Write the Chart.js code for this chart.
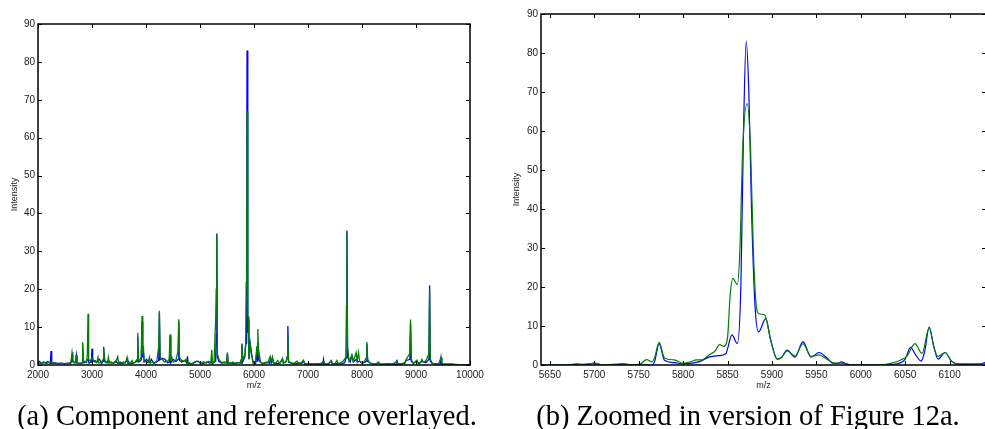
<!DOCTYPE html>
<html>
<head>
<meta charset="utf-8">
<script src="https://cdn.jsdelivr.net/npm/chart.js@4.4.0/dist/chart.umd.min.js"></script>
<style>
html,body{margin:0;padding:0;background:#fff;overflow:hidden;width:985px;height:429px;}
#wrap{position:relative;width:985px;height:429px;overflow:hidden;}
canvas{position:absolute;top:0;}
#chartA{left:0;}
#chartB{left:490px;}
.cap{position:absolute;top:402px;width:494px;text-align:center;font-family:"Liberation Serif",serif;font-size:28.5px;line-height:28.5px;color:#000;white-space:nowrap;}
</style>
</head>
<body>
<div id="wrap">
<canvas id="chartA" width="490" height="429"></canvas>
<canvas id="chartB" width="500" height="429"></canvas>
<div class="cap" style="left:0">(a) Component and reference overlayed.</div>
<div class="cap" style="left:501px">(b) Zoomed in version of Figure 12a.</div>
</div>
<script>
// ticks
const yTicks = [0, 10, 20, 30, 40, 50, 60, 70, 80, 90];
const xTicksA = [2000, 3000, 4000, 5000, 6000, 7000, 8000, 9000, 10000];
const xTicksB = [5650, 5700, 5750, 5800, 5850, 5900, 5950, 6000, 6050, 6100];

// espectro completo (m/z, intensidad) - referencia azul
const azulA = [
  [2000,0.4],[2030,0.9],[2060,0.4],[2100,0.8],[2140,0.5],[2180,0.9],[2228,0.4],[2241,3.7],[2254,0.4],[2300,0.6],
  [2360,0.4],[2420,0.5],[2480,0.3],[2540,0.5],[2600,0.4],[2618,0.8],[2630,2.6],[2642,0.9],[2690,0.6],[2710,2.6],
  [2722,0.5],[2790,0.5],[2815,0.6],[2827,5.5],[2839,0.6],[2880,0.8],[2926,1.5],[2945,0.5],[2988,0.8],[3000,4.3],
  [3012,1.0],[3050,1.2],[3090,0.8],[3140,1.5],[3180,0.4],[3204,1.0],[3216,4.8],[3228,1.2],[3260,0.6],[3300,1.2],
  [3350,0.5],[3400,0.6],[3440,1.0],[3480,0.4],[3520,0.8],[3560,0.4],[3600,0.6],[3660,1.2],[3700,0.4],[3760,0.5],
  [3810,0.8],[3835,1.0],[3847,7.5],[3859,0.8],[3890,1.0],[3915,1.5],[3927,11.5],[3940,2.0],[3952,3.5],[3965,0.8],
  [4010,1.5],[4060,0.6],[4100,1.5],[4140,0.5],[4200,0.8],[4236,1.2],[4248,13.8],[4260,1.4],[4300,1.8],[4350,1.5],
  [4400,0.6],[4434,0.8],[4446,7.5],[4458,0.6],[4500,1.5],[4560,1.0],[4595,1.5],[4607,11.5],[4620,1.2],[4660,0.8],
  [4720,1.2],[4755,0.5],[4767,2.3],[4780,0.5],[4830,0.3],[4880,0.5],[4940,1.0],[5000,0.6],[5060,0.4],[5120,0.8],
  [5180,0.5],[5206,0.6],[5218,2.0],[5232,0.4],[5290,1.0],[5300,8.0],[5311,34.7],[5323,2.0],[5350,1.0],[5400,0.5],
  [5460,0.6],[5496,0.5],[5508,3.0],[5520,0.5],[5580,0.5],[5640,0.4],[5700,0.6],[5762,0.5],[5775,5.5],[5790,0.8],
  [5830,2.1],[5855,7.7],[5862,5.5],[5871,83],[5885,8.5],[5893,12.0],[5906,1.5],[5929,5.8],[5953,3.2],[5985,0.5],
  [6030,0.4],[6053,4.0],[6062,1.0],[6071,6.0],[6087,1.5],[6120,0.8],[6160,0.3],[6200,0.5],[6260,0.6],[6288,0.5],
  [6300,1.5],[6320,0.6],[6342,2.0],[6360,0.5],[6420,0.4],[6480,0.5],[6528,1.5],[6545,0.5],[6600,1.0],[6615,2.2],
  [6627,10.3],[6640,0.8],[6700,0.4],[6760,0.3],[6820,0.5],[6880,0.4],[6917,1.0],[6940,0.3],[7040,0.3],[7120,0.2],
  [7200,0.3],[7275,0.3],[7288,1.5],[7300,0.3],[7380,0.3],[7430,1.0],[7450,0.3],[7550,0.4],[7620,0.3],[7680,0.6],
  [7709,2.0],[7721,35.5],[7733,2.0],[7780,0.8],[7813,2.5],[7840,0.8],[7893,1.5],[7920,0.8],[7960,1.0],[8000,0.5],
  [8040,0.6],[8079,1.0],[8091,5.5],[8103,1.0],[8160,0.4],[8230,0.2],[8306,0.6],[8330,0.2],[8400,0.2],[8500,0.3],
  [8580,0.2],[8634,0.2],[8646,1.4],[8658,0.2],[8720,0.3],[8790,0.4],[8818,1.2],[8887,1.5],[8899,11.0],[8911,1.0],
  [8950,0.4],[9017,1.0],[9050,0.3],[9110,1.0],[9180,0.6],[9240,1.5],[9252,21.0],[9264,1.0],[9300,0.4],[9400,0.3],
  [9451,0.3],[9463,1.8],[9475,0.2],[9550,0.2],[9650,0.2],[9800,0.1],[10000,0.1]
];

// espectro completo - componente verde
const verdeA = [
  [2000,0.3],[2030,0.6],[2070,0.3],[2110,0.7],[2150,0.4],[2200,0.6],[2240,0.8],[2280,0.4],[2330,0.5],[2390,0.3],
  [2450,0.5],[2510,0.3],[2570,0.4],[2610,0.8],[2630,3.3],[2645,1.2],[2670,0.5],[2700,0.8],[2710,2.5],[2722,0.5],
  [2780,0.4],[2815,0.6],[2827,6.0],[2838,0.8],[2870,1.0],[2900,0.6],[2914,3.0],[2926,13.5],[2938,1.5],[2970,1.0],
  [3000,2.0],[3015,1.5],[3050,0.8],[3090,0.6],[3111,2.0],[3125,0.5],[3170,0.6],[3205,1.5],[3216,4.5],[3228,2.5],
  [3245,0.8],[3290,0.5],[3303,2.0],[3318,0.5],[3360,0.8],[3400,0.4],[3440,0.8],[3476,2.2],[3490,0.5],[3530,0.4],
  [3580,0.8],[3620,0.5],[3649,2.0],[3662,0.4],[3710,0.5],[3742,1.2],[3760,0.4],[3800,0.8],[3835,1.5],[3847,8.5],
  [3858,1.0],[3890,1.5],[3910,2.0],[3927,12.9],[3940,3.0],[3952,5.0],[3965,1.0],[4000,0.8],[4040,0.6],[4063,2.0],
  [4080,0.5],[4120,0.8],[4160,0.5],[4200,1.0],[4236,5.0],[4248,14.3],[4262,2.0],[4300,1.5],[4340,0.8],[4400,1.0],
  [4430,1.5],[4446,8.1],[4460,1.5],[4478,2.0],[4500,0.8],[4550,1.0],[4590,3.5],[4607,12.1],[4620,2.0],[4660,1.2],
  [4700,1.0],[4740,1.5],[4760,0.5],[4800,0.6],[4850,0.3],[4900,0.8],[4971,1.0],[5000,0.5],[5060,0.8],[5120,0.5],
  [5160,1.0],[5200,0.6],[5218,4.0],[5232,0.5],[5260,0.8],[5290,12.0],[5300,20.0],[5311,34.5],[5322,3.0],[5350,1.5],
  [5400,0.6],[5450,0.8],[5490,0.6],[5508,3.3],[5520,0.8],[5560,0.5],[5610,0.8],[5640,0.4],[5700,0.6],[5740,0.5],
  [5760,1.4],[5775,5.7],[5790,1.5],[5830,2.7],[5845,5.0],[5856,22.0],[5862,20.6],[5872,67],[5885,13.2],[5892,12.8],
  [5906,1.5],[5929,5.5],[5953,2.6],[5990,0.5],[6030,0.8],[6053,5.0],[6060,3.0],[6071,9.5],[6087,2.2],[6095,3.2],
  [6120,0.8],[6160,0.4],[6200,0.6],[6260,0.8],[6300,2.3],[6320,0.8],[6342,2.0],[6360,0.6],[6400,0.5],[6440,1.2],
  [6480,0.4],[6528,1.8],[6545,0.5],[6590,0.8],[6615,2.0],[6627,8.0],[6640,1.0],[6680,0.6],[6740,0.4],[6794,1.0],
  [6830,0.4],[6880,0.6],[6917,1.3],[6940,0.3],[7000,0.4],[7060,0.2],[7140,0.3],[7220,0.2],[7288,1.0],[7310,0.3],
  [7380,0.2],[7430,1.2],[7450,0.3],[7500,0.4],[7535,1.2],[7560,0.3],[7600,0.6],[7650,1.0],[7700,2.0],[7712,15.5],
  [7721,35.0],[7732,5.0],[7760,1.0],[7813,2.6],[7840,1.0],[7870,2.3],[7893,3.3],[7910,1.0],[7936,3.3],[7955,1.0],
  [7990,0.6],[8040,0.8],[8080,2.0],[8091,6.1],[8105,1.5],[8140,0.6],[8200,0.3],[8260,0.2],[8306,0.8],[8330,0.2],
  [8400,0.2],[8480,0.3],[8560,0.2],[8646,1.0],[8670,0.2],[8740,0.3],[8800,0.8],[8818,1.5],[8885,3.0],[8899,12.0],
  [8912,1.5],[8950,0.4],[9017,1.3],[9040,0.5],[9080,0.6],[9110,1.5],[9130,0.8],[9180,1.0],[9238,3.0],[9252,20.0],
  [9265,1.5],[9300,0.5],[9360,0.3],[9420,0.4],[9463,1.9],[9480,0.3],[9540,0.2],[9600,0.2],[9667,0.3],[9700,0.1],
  [9800,0.1],[10000,0.1]
];

// zoom 5640-6140 - azul
const azulB = [
  [5640,0],[5670,0],[5680,0.3],[5690,0],[5700,0.5],[5710,0],[5725,0],[5733,0.3],[5740,0],[5765,0],
  [5768,1.0],[5773,5.5],[5779,1.2],[5790,0.6],[5800,0.3],[5810,0.5],[5820,1.0],[5830,2.1],[5840,2.4],[5848,2.9],
  [5855,7.7],[5861,5.5],[5865,20],[5868,60],[5871,83],[5874,70],[5877,40],[5881,15],[5885,8.5],[5893,11.9],
  [5899,6.0],[5906,1.5],[5911,2.0],[5917,3.8],[5926,2.0],[5935,6.0],[5944,2.0],[5953,3.2],[5962,1.8],[5968,0.5],
  [5974,0.4],[5978,0.8],[5984,0.3],[5990,0],[6020,0],[6035,0.1],[6045,0.6],[6050,1.5],[6056,4.5],[6062,2.5],
  [6068,1.0],[6072,3.5],[6077,9.7],[6082,5.0],[6087,1.5],[6095,3.2],[6102,1.0],[6110,0.2],[6130,0.1],[6140,0.6]
];

// zoom 5640-6140 - verde
const verdeB = [
  [5640,0],[5680,0.1],[5700,0.4],[5710,0],[5730,0.3],[5745,0],[5752,0.3],[5759,1.4],[5765,0.8],[5768,2.0],
  [5773,5.8],[5779,1.8],[5790,1.3],[5800,0.5],[5808,0.8],[5815,1.3],[5822,1.4],[5830,2.7],[5836,3.6],[5841,5.2],
  [5846,4.8],[5850,7.0],[5853,18],[5856,22.2],[5861,20.6],[5864,30],[5867,55],[5872,67],[5876,55],[5879,30],
  [5882,16],[5885,13.2],[5892,12.8],[5898,7.0],[5906,1.5],[5911,2.0],[5917,3.6],[5926,2.3],[5935,5.5],[5944,2.2],
  [5953,2.6],[5962,1.5],[5970,0.5],[5978,0.5],[5990,0],[6020,0],[6035,0.5],[6045,1.3],[6052,2.3],[6061,5.5],
  [6069,3.0],[6077,9.5],[6083,4.0],[6087,2.2],[6095,3.2],[6102,1.0],[6110,0.3],[6140,0.3]
];

Chart.defaults.font.family = '"Liberation Sans", Arial, sans-serif';
Chart.defaults.color = '#222';

// marco y marcas hacia adentro, estilo matlab
const marco = {
  id: 'marco',
  afterDraw(chart) {
    const ctx = chart.ctx;
    const a = chart.chartArea;
    const sx = chart.scales.x, sy = chart.scales.y;
    ctx.save();
    ctx.strokeStyle = '#000';
    ctx.lineWidth = 1;
    ctx.beginPath();
    sx.ticks.forEach(t => {
      const px = Math.round(sx.getPixelForValue(t.value)) + 0.5;
      ctx.moveTo(px, a.bottom); ctx.lineTo(px, a.bottom - 4);
      ctx.moveTo(px, a.top); ctx.lineTo(px, a.top + 4);
    });
    sy.ticks.forEach(t => {
      const py = Math.round(sy.getPixelForValue(t.value)) + 0.5;
      ctx.moveTo(a.left, py); ctx.lineTo(a.left + 4, py);
      ctx.moveTo(a.right, py); ctx.lineTo(a.right - 4, py);
    });
    ctx.stroke();
    ctx.lineWidth = 1.5;
    ctx.strokeRect(a.left, a.top, a.right - a.left, a.bottom - a.top);
    ctx.restore();
  }
};

function puntos(lista) {
  return lista.map(p => ({x: p[0], y: p[1]}));
}

function grafico(id, azul, verde, xTicks, xMin, xMax, opc) {
  const ctx = document.getElementById(id);
  return new Chart(ctx, {
    type: 'line',
    data: {
      datasets: [{
        label: 'componente',
        data: puntos(verde),
        borderColor: '#008000',
        borderWidth: opc.ancho,
        pointRadius: 0,
        tension: opc.suave ? 0.4 : 0,
        cubicInterpolationMode: opc.suave ? 'monotone' : 'default',
        order: 0
      }, {
        label: 'referencia',
        data: puntos(azul),
        borderColor: '#0000ff',
        borderWidth: opc.ancho,
        pointRadius: 0,
        tension: opc.suave ? 0.4 : 0,
        cubicInterpolationMode: opc.suave ? 'monotone' : 'default',
        order: 1
      }]
    },
    options: {
      responsive: false,
      animation: false,
      devicePixelRatio: 1,
      layout: {padding: opc.padding},
      plugins: {legend: {display: false}, tooltip: {enabled: false}},
      scales: {
        x: {
          type: 'linear',
          min: xMin,
          max: xMax,
          grid: {display: false, drawTicks: false, tickLength: 0},
          border: {display: false},
          afterBuildTicks: s => { s.ticks = xTicks.map(v => ({value: v})); },
          afterFit: s => { s.height = 64; },
          ticks: {font: {size: 10}, padding: 4, maxRotation: 0, autoSkip: false, callback: v => String(v)},
          title: {display: true, text: 'm/z', font: {size: 9}, padding: {top: 0, bottom: 37.6}}
        },
        y: {
          type: 'linear',
          min: 0,
          max: 90,
          grid: {display: false, drawTicks: false, tickLength: 0},
          border: {display: false},
          afterBuildTicks: s => { s.ticks = yTicks.map(v => ({value: v})); },
          afterFit: s => { s.width = opc.anchoY; },
          ticks: {font: {size: 10}, padding: 3, callback: v => String(v)},
          title: {display: true, text: 'Intensity', font: {size: 9}, padding: {top: opc.tituloY, bottom: 0}}
        }
      }
    },
    plugins: [marco]
  });
}

grafico('chartA', azulA, verdeA, xTicksA, 2000, 10000,
  {ancho: 1.3, suave: false, padding: {top: 24, right: 20, left: 0, bottom: 0}, anchoY: 38, tituloY: 9.6});
grafico('chartB', azulB, verdeB, xTicksB, 5640, 6141,
  {ancho: 1.2, suave: true, padding: {top: 14, right: 4, left: 0, bottom: 0}, anchoY: 51, tituloY: 21.6});
</script>
</body>
</html>
